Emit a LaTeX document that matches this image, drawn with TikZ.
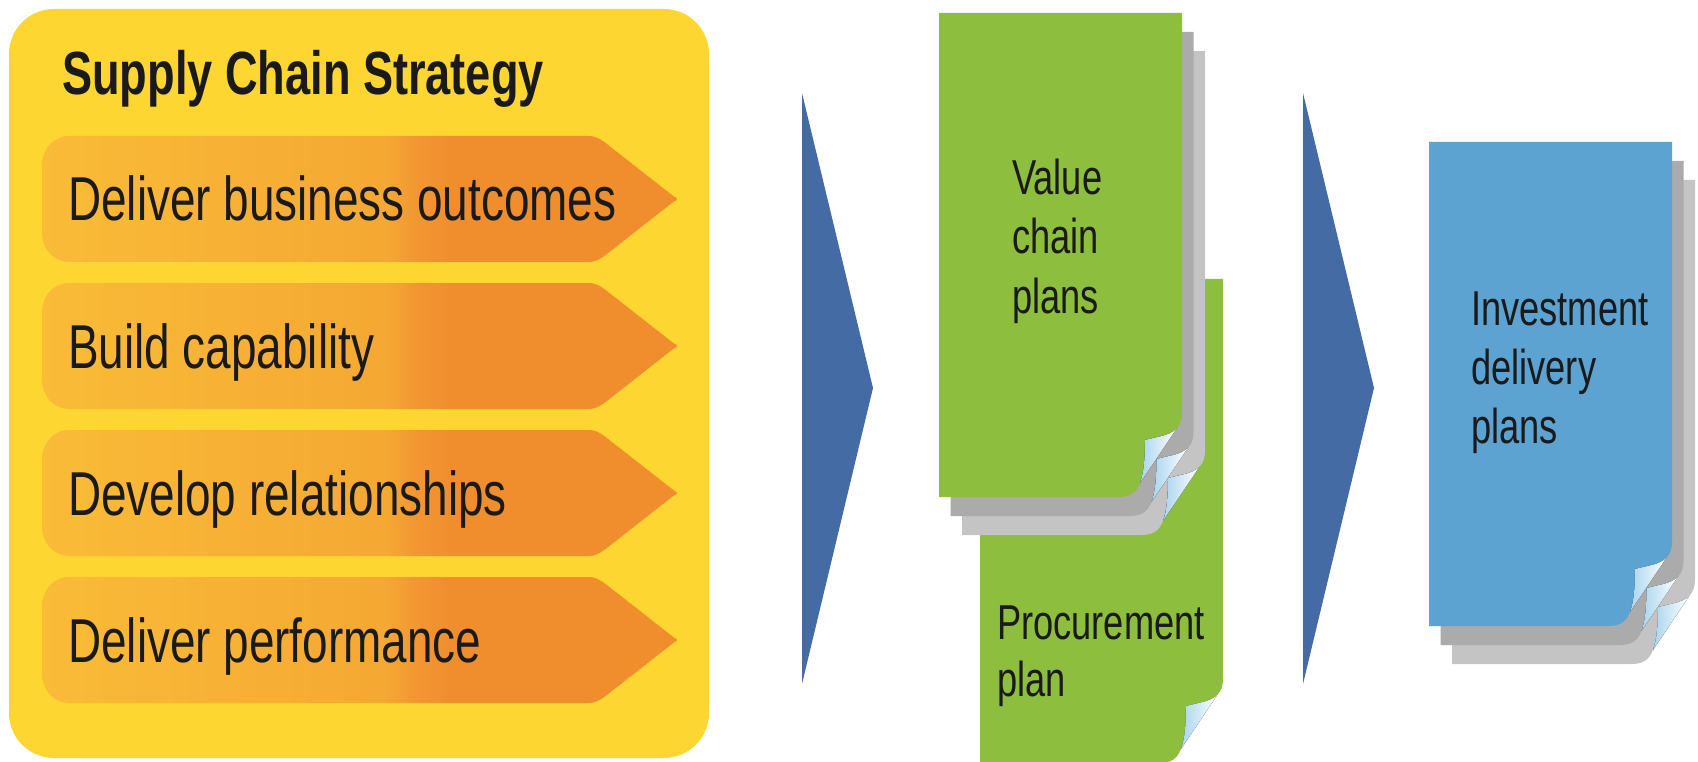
\documentclass[tikz,border=0pt]{standalone}
\usepackage{fontspec}
\newfontfamily\condfont[FakeStretch=0.74]{Liberation Sans}

\definecolor{boxyellow}{HTML}{FDD631}
\definecolor{penA}{HTML}{F9BC37}
\definecolor{penB}{HTML}{F5A833}
\definecolor{penC}{HTML}{F29632}
\definecolor{penD}{HTML}{F08E2E}
\definecolor{chevblue}{HTML}{456BA4}
\definecolor{leafgreen}{HTML}{8DBE3E}
\definecolor{docblue}{HTML}{5CA3D1}
\definecolor{grayA}{HTML}{ABABAB}
\definecolor{grayB}{HTML}{C4C4C4}
\definecolor{curlblue}{HTML}{A9D4EE}
\definecolor{ink}{HTML}{1A1A1A}

% orange banner fill: yellowish on the left, turning orange past the middle
\pgfdeclarehorizontalshading{pentshade}{100bp}{%
  color(0bp)=(penA); color(25bp)=(penA); color(52bp)=(penB);
  color(54.5bp)=(penC); color(57bp)=(penD); color(75bp)=(penD); color(100bp)=(penD)}

% banner with rounded left end and pointed right end, top edge at #1
\newcommand\banner[1]{%
  \path[shading=pentshade]
    (70,#1) -- (588,#1) .. controls (596,#1) and (600,#1+3) .. (605,#1+6.5)
    -- (674,#1+60.6) .. controls (678,#1+62) and (678,#1+64) .. (674,#1+65.4)
    -- (605,#1+119.5) .. controls (600,#1+123) and (596,#1+126) .. (588,#1+126)
    -- (70,#1+126) .. controls (52,#1+126) and (42,#1+112) .. (42,#1+96)
    -- (42,#1+30) .. controls (42,#1+14) and (52,#1) .. (70,#1) -- cycle;}

% sheet of paper with a curled lower right corner; #1 = top left, #2 = colour
\newcommand\docpage[2]{%
  \begin{scope}[shift={#1}]
    \fill[#2] (0,0) -- (243,0) -- (243,400)
      .. controls (243,414) and (235,420) .. (223,423) -- (206,427)
      .. controls (206,444) and (205,459) .. (201,470)
      .. controls (197,480) and (191,484) .. (179,484) -- (0,484) -- cycle;
    \fill[left color=curlblue, right color=white]
      (237.5,415.6) .. controls (234,419.25) and (229,421.5) .. (223,423)
      -- (206,427) .. controls (206,444) and (205,459) .. (201,470) -- cycle;
  \end{scope}}

\tikzset{
  titletxt/.style={font=\condfont\bfseries\fontsize{61}{70}\selectfont,
    text=ink, inner sep=0pt, anchor=base west},
  bantxt/.style={font=\condfont\fontsize{62}{70}\selectfont,
    text=ink, inner sep=0pt, anchor=base west},
  doctxt/.style={font=\condfont\fontsize{49}{58}\selectfont,
    text=ink, inner sep=0pt, anchor=base west},
}

\begin{document}
\begin{tikzpicture}[x=1pt,y=-1pt]
  \useasboundingbox (0,0) rectangle (1698,762);

  % strategy panel
  \fill[boxyellow, rounded corners=45pt] (9,9) rectangle (709,758);
  \node[titletxt] (title) at (62,95) {Supply Chain Strategy};

  \banner{136}
  \banner{283}
  \banner{430}
  \banner{577}
  \node[bantxt] (b1) at (68,221) {Deliver business outcomes};
  \node[bantxt] (b2) at (68,368) {Build capability};
  \node[bantxt] (b3) at (68,515) {Develop relationships};
  \node[bantxt] (b4) at (68,662) {Deliver performance};

  % flow chevrons
  \fill[chevblue] (802,93) -- (873,388) -- (802,684) -- cycle;
  \fill[chevblue] (1303,93) -- (1374,388) -- (1303,684) -- cycle;

  % procurement plan sheet (behind the value chain stack)
  \docpage{(980,279)}{leafgreen}
  \node[doctxt] (pp1) at (997,639) {Procurement};
  \node[doctxt] (pp2) at (997,696) {plan};

  % value chain plans stack
  \docpage{(962,51)}{grayB}
  \docpage{(950.5,32)}{grayA}
  \docpage{(939,13)}{leafgreen}
  \node[doctxt] (vc1) at (1012,195) {Value};
  \node[doctxt] (vc2) at (1012,254) {chain};
  \node[doctxt] (vc3) at (1012,313) {plans};

  % investment delivery plans stack
  \docpage{(1452,180)}{grayB}
  \docpage{(1440.5,161)}{grayA}
  \docpage{(1429,142)}{docblue}
  \node[doctxt] (id1) at (1471,325) {Investment};
  \node[doctxt] (id2) at (1471,384) {delivery};
  \node[doctxt] (id3) at (1471,443) {plans};
\end{tikzpicture}
\end{document}
